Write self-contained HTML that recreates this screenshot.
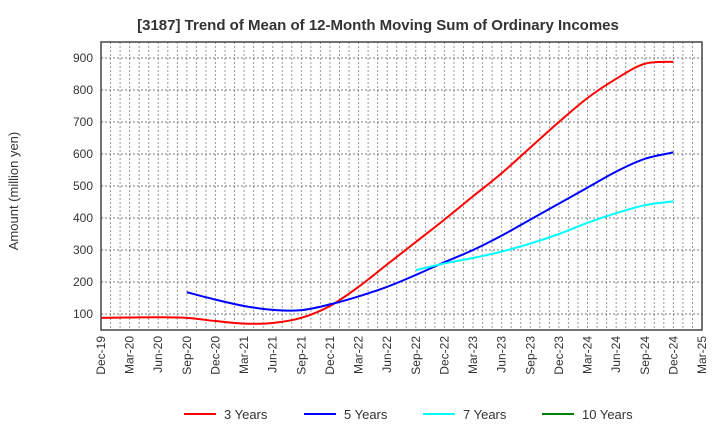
<!DOCTYPE html>
<html><head><meta charset="utf-8"><style>
body{margin:0;background:#fff;font-family:"Liberation Sans",sans-serif}
</style></head><body>
<svg id="c" width="720" height="440" xmlns="http://www.w3.org/2000/svg" font-family="Liberation Sans, sans-serif">
<text x="378" y="30" text-anchor="middle" font-size="15" font-weight="bold" fill="#333">[3187]  Trend of Mean of 12-Month Moving Sum of Ordinary Incomes</text>
<text transform="translate(18,191) rotate(-90)" text-anchor="middle" font-size="13" fill="#333">Amount (million yen)</text>
<g id="grid"></g><g id="series"></g><g id="axes"></g><g id="legend"></g>
</svg>
<script>
const xLabels=["Dec-19","Mar-20","Jun-20","Sep-20","Dec-20","Mar-21","Jun-21","Sep-21","Dec-21","Mar-22","Jun-22","Sep-22","Dec-22","Mar-23","Jun-23","Sep-23","Dec-23","Mar-24","Jun-24","Sep-24","Dec-24","Mar-25"];
const yTicks=[100,200,300,400,500,600,700,800,900];
const s3=[88,89,90,88,78,70,72,88,125,185,255,325,395,468,540,620,700,775,835,882,888];
const s5=[168,145,125,113,112,130,155,185,222,262,300,345,395,445,495,545,585,605];
const s7=[237,258,275,295,320,350,385,415,440,452];
const s10=[];
const names=["3 Years","5 Years","7 Years","10 Years"];
const colors=["#ff0000","#0000ff","#00ffff","#008000"];
const starts=[0,3,11,0];
const L=101,R=702,T=42,B=330;
const qw=(R-L)/21;
const X=i=>L+i*qw;
const Y=v=>314-(v-100)*0.32;
const ns="http://www.w3.org/2000/svg";
function mk(t,a,p){const e=document.createElementNS(ns,t);for(const k in a)e.setAttribute(k,a[k]);p.appendChild(e);return e;}
const g=document.getElementById('grid');
for(let m=1;m<63;m++){const x=L+m*qw/3;const l=mk('line',{x1:x,x2:x,y1:T,y2:B,stroke:'#999','stroke-dasharray':'2,2','stroke-width':1},g);

}
yTicks.forEach(v=>{const l=mk('line',{x1:L,x2:R,y1:Y(v),y2:Y(v),stroke:'#777','stroke-dasharray':'2,2','stroke-width':1},g);

});
const a=document.getElementById('axes');
const fr=mk('rect',{x:L,y:T,width:R-L,height:B-T,fill:'none',stroke:'#444','stroke-width':1.5},a);


yTicks.forEach(v=>{const t=mk('text',{x:L-8,y:Y(v)+4,'text-anchor':'end','font-size':12,fill:'#333'},a);t.textContent=v;

});
xLabels.forEach((s,i)=>{const t=mk('text',{transform:`translate(${X(i)+4},${B+6}) rotate(-90)`,'text-anchor':'end','font-size':12,fill:'#333'},a);t.textContent=s;

});
const sg=document.getElementById('series');
function path(pts){let d=`M${pts[0][0]},${pts[0][1]}`;for(let i=0;i<pts.length-1;i++){const p0=pts[i-1]||pts[i],p1=pts[i],p2=pts[i+1],p3=pts[i+2]||p2;
d+=` C${p1[0]+(p2[0]-p0[0])/6},${p1[1]+(p2[1]-p0[1])/6} ${p2[0]-(p3[0]-p1[0])/6},${p2[1]-(p3[1]-p1[1])/6} ${p2[0]},${p2[1]}`;}return d;}
[s3,s5,s7,s10].forEach((s,k)=>{if(s.length<2)return;const pts=s.map((v,i)=>[X(starts[k]+i),Y(v)]);
const p=mk('path',{d:path(pts),fill:'none',stroke:colors[k],'stroke-width':2},sg);

});
const lg=document.getElementById('legend');
const lx=[184,304,423,542];
names.forEach((n,k)=>{const l=mk('line',{x1:lx[k],x2:lx[k]+32,y1:414,y2:414,stroke:colors[k],'stroke-width':2},lg);


const t=mk('text',{x:lx[k]+40,y:419,'font-size':13,fill:'#333'},lg);t.textContent=n;

});
</script>
</body></html>
